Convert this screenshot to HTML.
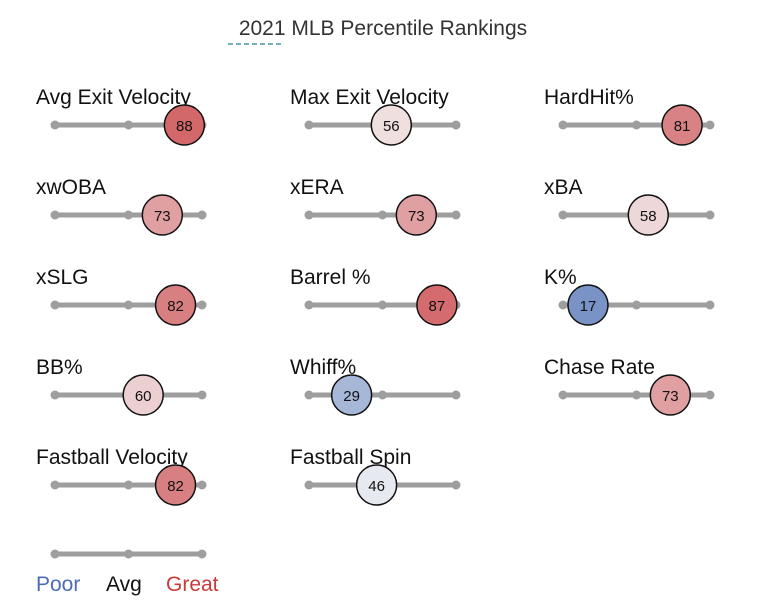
<!DOCTYPE html>
<html><head><meta charset="utf-8"><style>
body{margin:0;background:#fff;}
svg text{font-family:"Liberation Sans",sans-serif;}
</style></head><body>
<svg id="chart" width="761" height="611" xmlns="http://www.w3.org/2000/svg">
<text x="383" y="35" text-anchor="middle" font-size="21" fill="#333">2021 MLB Percentile Rankings</text>
<line x1="228" y1="44" x2="284" y2="44" stroke="#4a9aa8" stroke-width="1.5" stroke-dasharray="5,3"/>
<g id="rows"></g>
<g>
<line x1="55" y1="554" x2="202" y2="554" stroke="#9e9e9e" stroke-width="5"/>
<circle cx="55" cy="554" r="4.5" fill="#9e9e9e"/><circle cx="128.5" cy="554" r="4.5" fill="#9e9e9e"/><circle cx="202" cy="554" r="4.5" fill="#9e9e9e"/>
<text x="36" y="591" font-size="21" fill="#4a6db5">Poor</text>
<text x="106" y="591" font-size="21" fill="#111">Avg</text>
<text x="166" y="591" font-size="21" fill="#c83a3a">Great</text>
</g>
</svg>
<script>
const metrics = ["Avg Exit Velocity","Max Exit Velocity","HardHit%","xwOBA","xERA","xBA","xSLG","Barrel %","K%","BB%","Whiff%","Chase Rate","Fastball Velocity","Fastball Spin"];
const percentiles = [88,56,81,73,73,58,82,87,17,60,29,73,82,46];
const colX0 = [55,309,563];
const lineW = 147;
const rowY0 = 125, rowStep = 90;
function xScale(col, v){ return colX0[col] + lineW * v / 100; }
function color(v){
  const w=[245,245,245], r=[200,60,64], b=[59,97,175];
  const t = v>=50 ? (v-50)/50 : (50-v)/50;
  const e = v>=50 ? r : b;
  return 'rgb('+w.map((c,i)=>Math.round(c+(e[i]-c)*t)).join(',')+')';
}
const NS="http://www.w3.org/2000/svg";
const g=document.getElementById('rows');
function mk(tag, attrs){const el=document.createElementNS(NS,tag);for(const k in attrs)el.setAttribute(k,attrs[k]);return el;}
metrics.forEach((m,i)=>{
  const col=i%3, row=Math.floor(i/3);
  const y=rowY0+row*rowStep, x0=colX0[col];
  const grp=mk('g',{});
  
  
  const lab=mk('text',{x:x0-19,y:y-21,'font-size':21,fill:'#111'});
  lab.textContent=m;
  
  
  grp.appendChild(lab);
  const ln=mk('line',{x1:x0,y1:y,x2:x0+lineW,y2:y,stroke:'#9e9e9e','stroke-width':5});
  
  
  grp.appendChild(ln);
  [0,50,100].forEach(p=>{grp.appendChild(mk('circle',{cx:xScale(col,p),cy:y,r:4.5,fill:'#9e9e9e'}));});
  const c=mk('circle',{cx:xScale(col,percentiles[i]),cy:y,r:20,fill:color(percentiles[i]),stroke:'#111','stroke-width':1.5});
  
  
  grp.appendChild(c);
  const t=mk('text',{x:xScale(col,percentiles[i]),y:y+6,'text-anchor':'middle','font-size':15,fill:'#111'});
  t.textContent=percentiles[i];
  
  
  grp.appendChild(t);
  g.appendChild(grp);
});
</script>
</body></html>
